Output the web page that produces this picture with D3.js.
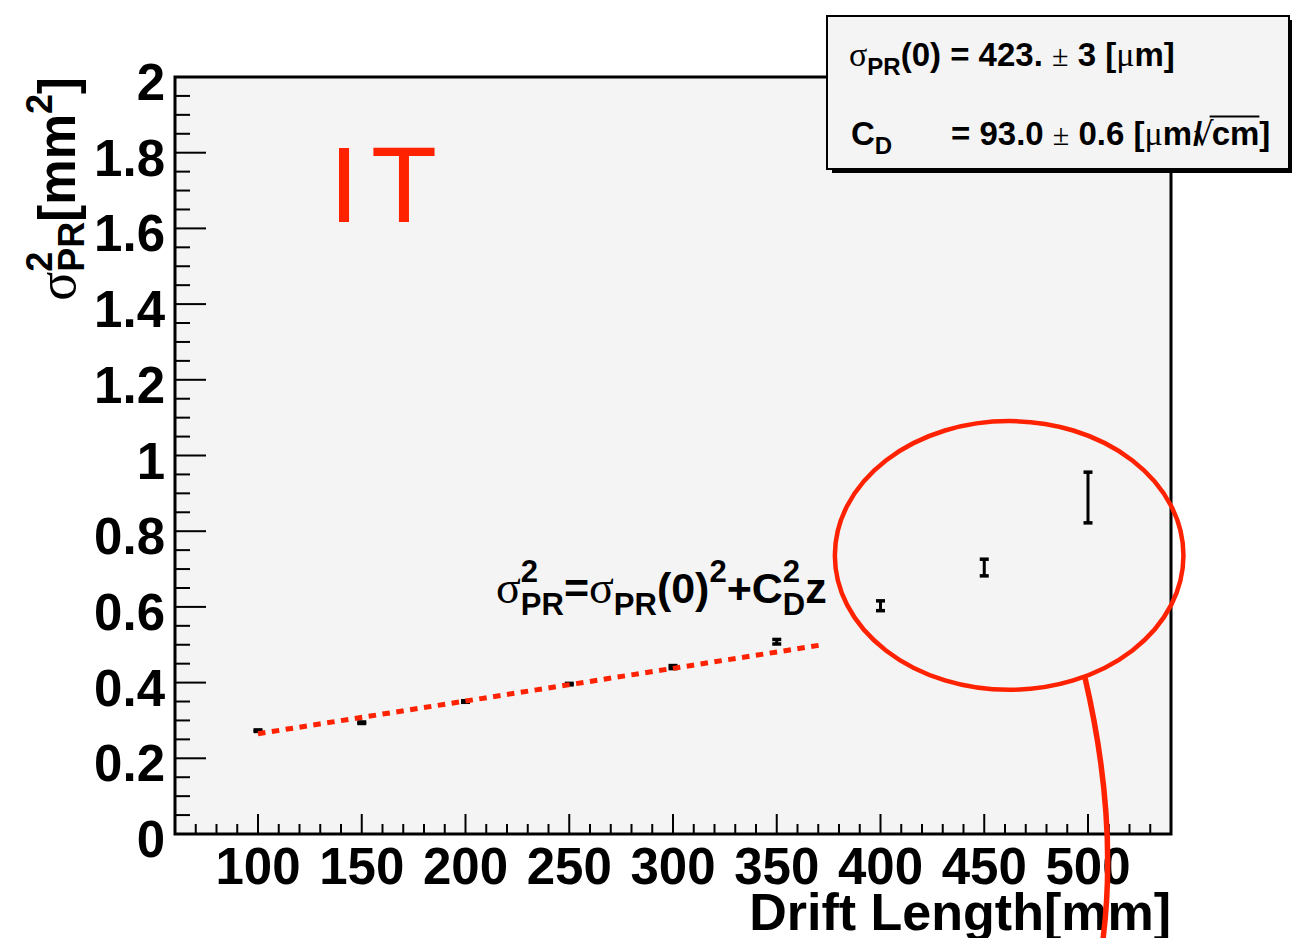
<!DOCTYPE html>
<meta charset="utf-8">
<style>
body { margin: 0; background: #fff; }
.tick-label { font-family: 'Liberation Sans', Arial, Helvetica, sans-serif; font-weight: bold; }
text { white-space: pre; }
</style>
<body>
<script src="https://d3js.org/d3.v7.min.js"></script>
<script>

// drift length [mm] and sigma_PR^2 [mm^2]
var driftLength = [100, 150, 200, 250, 300, 350, 400, 450, 500];
var sigma2      = [0.273, 0.294, 0.350, 0.396, 0.441, 0.508, 0.603, 0.704, 0.889];
var sigma2Err   = [0.002, 0.002, 0.002, 0.002, 0.004, 0.006, 0.013, 0.022, 0.067];

// fitted line sigma^2 = sigma(0)^2 + C_D^2 z, drawn over the fit range
var fitZ      = [100, 371];
var fitSigma2 = [0.265, 0.499];

var xTickValues = [100, 150, 200, 250, 300, 350, 400, 450, 500];
var xTickLabels = ["100", "150", "200", "250", "300", "350", "400", "450", "500"];
var yTickValues = [0, 0.2, 0.4, 0.6, 0.8, 1, 1.2, 1.4, 1.6, 1.8, 2];
var yTickLabels = ["0", "0.2", "0.4", "0.6", "0.8", "1", "1.2", "1.4", "1.6", "1.8", "2"];

// hand-drawn highlight: ellipse around the last points and a pointer line
var ringCenter = [462, 0.736];
var ringRadius = [84, 0.355];
var pointerZ = [498.6, 514.5, 507.2];
var pointerS = [0.412, 0.037, -0.28];

var SANS = "'Liberation Sans', Arial, Helvetica, sans-serif";
var SYM = "'Liberation Serif', 'DejaVu Serif', serif";
var RED = "#ff2200";

var W = 1292, H = 938;
var frame = {left: 175, right: 1171, top: 77, bottom: 834};

var svg = d3.select("body").append("svg")
    .attr("width", W)
    .attr("height", H);

var x = d3.scaleLinear().domain([60, 540]).range([frame.left, frame.right]);
var y = d3.scaleLinear().domain([0, 2]).range([frame.bottom, frame.top]);

// frame background
svg.append("rect")
    .attr("x", frame.left).attr("y", frame.top)
    .attr("width", frame.right - frame.left)
    .attr("height", frame.bottom - frame.top)
    .attr("fill", "#f4f4f4");

// ticks (drawn inward like ROOT)
var ticks = svg.append("g").attr("stroke", "#000").attr("stroke-width", 2);
d3.range(60, 541, 10).forEach(function(v) {
  var major = v % 50 === 0;
  ticks.append("line")
      .attr("x1", x(v)).attr("x2", x(v))
      .attr("y1", frame.bottom).attr("y2", frame.bottom - (major ? 20 : 10));
});
d3.range(0, 41).forEach(function(i) {
  var v = i * 0.05;
  var major = i % 4 === 0;
  ticks.append("line")
      .attr("x1", frame.left).attr("x2", frame.left + (major ? 31 : 15))
      .attr("y1", y(v)).attr("y2", y(v));
});

// frame border
svg.append("rect")
    .attr("x", frame.left).attr("y", frame.top)
    .attr("width", frame.right - frame.left)
    .attr("height", frame.bottom - frame.top)
    .attr("fill", "none")
    .attr("stroke", "#000")
    .attr("stroke-width", 3);

// tick labels
svg.append("g").selectAll("text")
    .data(xTickValues)
  .enter().append("text")
    .attr("class", "tick-label")
    .attr("x", function(d) { return x(d); })
    .attr("y", 884)
    .attr("text-anchor", "middle")
    .style("font-size", "51px")
    .text(function(d, i) { return xTickLabels[i]; });

svg.append("g").selectAll("text")
    .data(yTickValues)
  .enter().append("text")
    .attr("class", "tick-label")
    .attr("x", 165)
    .attr("y", function(d) { return y(d) + 23; })
    .attr("text-anchor", "end")
    .style("font-size", "51px")
    .text(function(d, i) { return yTickLabels[i]; });

// little rich text helper: pieces with sub/superscripts, optional stacking
function richText(g, x0, y0, parts, anchor) {
  var grp = g.append("g");
  var cx = 0, stackStart = null, stackW = 0;
  parts.forEach(function(p) {
    var t = grp.append("text")
        .attr("y", y0 + (p.dy || 0))
        .style("font-family", p.font || (p.sym ? SYM : SANS))
        .style("font-weight", p.sym ? "normal" : "bold")
        .style("font-size", p.size + "px")
        .attr("fill", p.color || "#000")
        .text(p.t);
    var w = t.node().getComputedTextLength();
    var px = (stackStart !== null ? stackStart : cx) + (p.dx || 0);
    t.attr("x", px);
    if (p.over) {
      grp.append("line")
          .attr("x1", px - 2).attr("x2", px + w)
          .attr("y1", y0 - p.size * 0.86).attr("y2", y0 - p.size * 0.86)
          .attr("stroke", "#000").attr("stroke-width", 2);
    }
    if (p.stack) {
      stackStart = cx; stackW = w;
    } else if (stackStart !== null) {
      cx = stackStart + Math.max(stackW, w) + (p.dx || 0);
      stackStart = null;
    } else {
      cx += w + (p.dx || 0);
    }
  });
  var shift = anchor === "end" ? x0 - cx : x0;
  grp.attr("transform", "translate(" + shift + ",0)");
  return grp;
}

// axis titles
richText(svg, 1171, 930, [
  {t: "Drift Length[mm]", size: 52}
], "end");

var yTitle = svg.append("g").attr("transform", "translate(75,77) rotate(-90)");
richText(yTitle, 0, 0, [
  {t: "σ", size: 54, sym: true},
  {t: "2", size: 36, dy: -23, stack: true},
  {t: "PR", size: 36, dy: 9},
  {t: "[mm", size: 51},
  {t: "2", size: 36, dy: -23},
  {t: "]", size: 51}
], "end");

// error bars
var pts = svg.append("g").attr("stroke", "#000");
driftLength.forEach(function(z, i) {
  var lo = y(sigma2[i] - sigma2Err[i]), hi = y(sigma2[i] + sigma2Err[i]);
  pts.append("line")
      .attr("x1", x(z)).attr("x2", x(z))
      .attr("y1", lo).attr("y2", hi)
      .attr("stroke-width", 3);
  [lo, hi].forEach(function(yy) {
    pts.append("line")
        .attr("x1", x(z) - 4.5).attr("x2", x(z) + 4.5)
        .attr("y1", yy).attr("y2", yy)
        .attr("stroke-width", 3.5);
  });
});

// fit line
var line = d3.line()
    .x(function(d) { return x(d[0]); })
    .y(function(d) { return y(d[1]); });

svg.append("path")
    .datum(d3.zip(fitZ, fitSigma2))
    .attr("d", line)
    .attr("fill", "none")
    .attr("stroke", RED)
    .attr("stroke-width", 5)
    .attr("stroke-dasharray", "7.5,6.5");

// formula label
richText(svg, 496, 603, [
  {t: "σ", size: 46, sym: true},
  {t: "2", size: 31, dy: -21, stack: true},
  {t: "PR", size: 31, dy: 12},
  {t: "=", size: 43},
  {t: "σ", size: 46, sym: true},
  {t: "PR", size: 31, dy: 12},
  {t: "(0)", size: 43},
  {t: "2", size: 31, dy: -21},
  {t: "+C", size: 43},
  {t: "2", size: 31, dy: -21, stack: true},
  {t: "D", size: 31, dy: 12},
  {t: "z", size: 43}
]);

// "IT" label
svg.append("text")
    .attr("x", 329)
    .attr("y", 222)
    .style("font-family", SANS)
    .style("font-size", "108px")
    .style("letter-spacing", "12px")
    .attr("fill", RED)
    .text("IT");

// highlight ellipse and pointer
svg.append("ellipse")
    .attr("cx", x(ringCenter[0]))
    .attr("cy", y(ringCenter[1]))
    .attr("rx", x(ringCenter[0] + ringRadius[0]) - x(ringCenter[0]))
    .attr("ry", y(0) - y(ringRadius[1]))
    .attr("fill", "none")
    .attr("stroke", RED)
    .attr("stroke-width", 4.5);

svg.append("path")
    .attr("d", "M" + x(pointerZ[0]) + "," + y(pointerS[0]) +
               "Q" + x(pointerZ[1]) + "," + y(pointerS[1]) +
               " " + x(pointerZ[2]) + "," + y(pointerS[2]))
    .attr("fill", "none")
    .attr("stroke", RED)
    .attr("stroke-width", 5.5);

// stats box with shadow
var box = {x: 827, y: 16, w: 462, h: 153};
svg.append("rect")
    .attr("x", box.x + 5).attr("y", box.y + 4)
    .attr("width", box.w).attr("height", box.h)
    .attr("fill", "#000");
svg.append("rect")
    .attr("x", box.x).attr("y", box.y)
    .attr("width", box.w).attr("height", box.h)
    .attr("fill", "#f4f4f4")
    .attr("stroke", "#000")
    .attr("stroke-width", 2);

richText(svg, 849, 66, [
  {t: "σ", size: 34, sym: true},
  {t: "PR", size: 24, dy: 9},
  {t: "(0) = 423. ", size: 33},
  {t: "±", size: 30, sym: true},
  {t: " 3 [", size: 33},
  {t: "μ", size: 34, sym: true},
  {t: "m]", size: 33}
]);

richText(svg, 851, 145, [
  {t: "C", size: 33},
  {t: "D", size: 24, dy: 9}
]);

richText(svg, 951, 145, [
  {t: "= 93.0 ", size: 33},
  {t: "±", size: 30, sym: true},
  {t: " 0.6 [", size: 33},
  {t: "μ", size: 34, sym: true},
  {t: "m", size: 33},
  {t: "/", size: 33, dx: 1},
  {t: "√", size: 32, sym: true, font: "'DejaVu Sans', sans-serif", dx: -9},
  {t: "cm", size: 33, over: true, dx: -2},
  {t: "]", size: 33}
]);

</script>
</body>
